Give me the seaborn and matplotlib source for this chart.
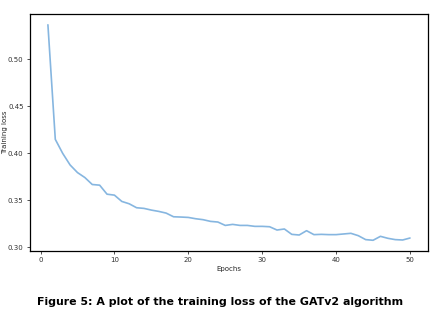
import numpy as np
import pandas as pd
import seaborn as sns
import matplotlib.pyplot as plt

# training loss per epoch
epochs = list(range(1, 51))
train_loss = [
    0.5364, 0.4146, 0.3997, 0.3874, 0.3793, 0.3740, 0.3666, 0.3659, 0.3563, 0.3553,
    0.3486, 0.3461, 0.3419, 0.3412, 0.3394, 0.3380, 0.3362, 0.3323, 0.3320, 0.3316,
    0.3302, 0.3292, 0.3274, 0.3267, 0.3231, 0.3242, 0.3231, 0.3231, 0.3221, 0.3221,
    0.3217, 0.3182, 0.3193, 0.3136, 0.3129, 0.3175, 0.3133, 0.3136, 0.3133, 0.3133,
    0.3140, 0.3147, 0.3122, 0.3080, 0.3073, 0.3115, 0.3094, 0.3080, 0.3076, 0.3097,
]
caption = "Figure 5: A plot of the training loss of the GATv2 algorithm"

df = pd.DataFrame({"Epochs": epochs, "Training loss": train_loss})

sns.set_style("ticks")
plt.rcParams["font.family"] = ["DejaVu Sans"]

fig = plt.figure(figsize=(4.32, 3.19), dpi=100)
ax = fig.add_axes([0.069, 0.213, 0.922, 0.743])

sns.lineplot(data=df, x="Epochs", y="Training loss", ax=ax,
             color="#86b6e0", linewidth=1.2)

ax.set_yticks([0.30, 0.35, 0.40, 0.45, 0.50])
ax.set_xticks([0, 10, 20, 30, 40, 50])
ax.tick_params(labelsize=5, length=2.5, width=0.6, pad=2, colors="#333333")
ax.set_xlabel("Epochs", fontsize=5, labelpad=2)
ax.set_ylabel("Training loss", fontsize=5)
ax.yaxis.set_label_coords(-0.055, 0.5)
for s in ax.spines.values():
    s.set_linewidth(0.9)
    s.set_color("black")

fig.text(0.509, 0.053, caption, ha="center", va="center",
         fontsize=7.9, fontweight="bold", color="black")

fig.savefig("out.png", dpi=100)
